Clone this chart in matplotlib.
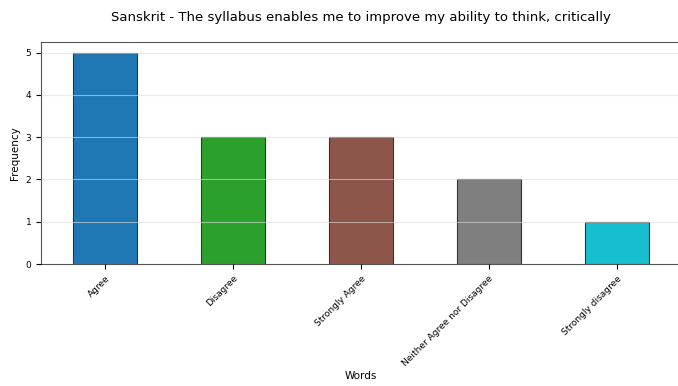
import matplotlib.pyplot as plt

categories = ['Agree', 'Disagree', 'Strongly Agree', 'Neither Agree nor Disagree', 'Strongly disagree']
counts = [5, 3, 3, 2, 1]
colors = ['#1f77b4', '#2ca02c', '#8c564b', '#7f7f7f', '#17becf']

fig, ax = plt.subplots(figsize=(6.78, 3.86), dpi=100)
ax.bar(range(len(categories)), counts, width=0.5, color=colors,
       edgecolor='#333333', linewidth=0.8)
ax.set_xlim(-0.5, len(categories) - 0.5)
ax.set_xticks(range(len(categories)))
ax.set_xticklabels(categories, rotation=45, ha='right', rotation_mode='anchor', fontsize=6.5)
ax.tick_params(axis='y', labelsize=6.5)
ax.grid(axis='y', color='#dddddd', linewidth=0.8, alpha=0.6)
ax.set_axisbelow(False)
for s in ax.spines.values():
    s.set_color('#555555')
ax.set_xlabel('Words', fontsize=7.5, labelpad=2)
ax.set_ylabel('Frequency', fontsize=7.5)
ax.set_title('Sanskrit - The syllabus enables me to improve my ability to think, critically',
             fontsize=9.5, pad=15)
fig.subplots_adjust(left=0.0605, right=1.004, top=0.891, bottom=0.316)
fig.savefig('out.png')
